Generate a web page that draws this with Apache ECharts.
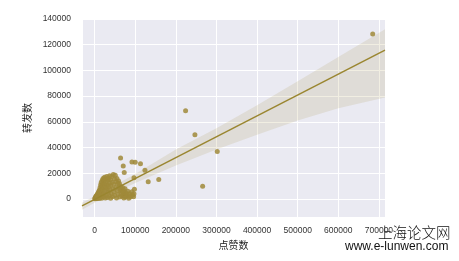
<!DOCTYPE html>
<html><head><meta charset="utf-8">
<script src="https://cdn.jsdelivr.net/npm/echarts@6/dist/echarts.min.js"></script>
<style>html,body{margin:0;padding:0;background:#fff}#c{width:459px;height:261px}</style>
</head><body><div id="c"></div>
<script>
const xName = '点赞数';
const yName = '转发数';
// scatter points [likes, reposts]
const clusterPoints = [
[500,200],[1200,800],[2000,300],[2500,1500],[3000,600],[3500,2200],[4000,1000],[4500,300],[5000,2800],[5500,1700],
[6000,500],[6500,3500],[7000,1200],[7500,2500],[8000,4200],[8500,800],[9000,3000],[9500,5000],[10000,1800],[10500,6000],
[11000,400],[11500,3800],[12000,7000],[12500,2200],[13000,5200],[13500,9000],[14000,1000],[14500,4500],[15000,11000],[15500,6800],
[16000,2800],[16500,13000],[17000,8200],[17500,600],[18000,10500],[18500,5000],[19000,14500],[19500,3200],[20000,12000],[20500,7500],
[21000,16000],[22000,1500],[22500,9500],[23000,14000],[24000,4200],[24500,17000],[25000,11500],[26000,6500],[26500,800],[27000,15500],
[28000,9000],[28500,13000],[29000,3000],[30000,17500],[31000,7500],[31500,11000],[32000,1200],[33000,14800],[34000,5500],[34500,16200],
[35000,9800],[36000,2500],[36500,12500],[37000,18000],[38000,7000],[39000,15000],[39500,500],[40000,10500],[41000,4000],[42000,17500],
[43000,13000],[44000,1800],[45000,8000],[46000,19000],[47000,11500],[48000,5500],[49000,15500],[50000,2800],[51000,18500],[52000,9000],
[53000,13500],[54000,700],[55000,16000],[56000,6500],[57000,12000],[58000,3500],[59000,14000],[60000,9500],[61000,12000],[62000,1500],
[63000,7000],[64000,10000],[65000,4000],[66000,8000],[67000,6000],[68000,2200],[69000,9000],[70000,5500],[71000,3000],[72000,800],
[73000,6500],[74000,3200],[75000,8000],[76000,1500],[77000,4500],[78000,2000],[80000,3800],[82000,6000],[84000,500],[86000,4000],
[88000,1500],[90000,2500],[92000,5600],[94000,3200],[96000,1800],[98000,7600],[97000,4000],[97000,16500]
];
const outlierPoints = [
[64000,31900],[70500,25700],[73000,20600],[92000,28800],[100000,28600],[113000,27500],[124000,22400],
[132000,13400],[158000,15200],[224000,68700],[247000,50000],[302000,37000],[266000,10000],[684700,128400]
];
// regression line endpoints
const fitLine = [[-31000,-5400],[715000,115800]];
// confidence band: x, lower, upper
const bandX     = [-31000, 0, 100000, 200000, 300000, 400000, 500000, 600000, 715000];
const bandLower = [-8400, -3000, 12500, 26000, 38500, 50000, 61000, 70500, 79000];
const bandUpper = [-2900, 2200, 19500, 38500, 55000, 73000, 91500, 110500, 132000];

const baseColor = '#a08a3a';
const chart = echarts.init(document.getElementById('c'), null, {renderer:'canvas'});
const bandData = bandX.map((x,i)=>[x,bandLower[i],bandUpper[i]]);
const labelFont = {fontFamily:'Liberation Sans, Arial, sans-serif', fontSize:8.5, color:'#333', formatter:function(v){return String(v);}};
chart.setOption({
  animation:false,
  backgroundColor:'#fff',
  grid:{left:82,right:74,top:19,bottom:44,show:true,backgroundColor:'#EAEAF2',borderWidth:0},
  xAxis:{type:'value',min:-31000,max:715000,minInterval:100000,maxInterval:100000,
    name:xName,nameLocation:'middle',nameGap:20,
    nameTextStyle:{fontFamily:'Noto Sans CJK SC',fontSize:10,color:'#222'},
    axisLine:{show:false},axisTick:{show:false},
    axisLabel:Object.assign({margin:9,showMinLabel:false,showMaxLabel:false},labelFont),
    splitLine:{show:true,lineStyle:{color:'#fff',width:1}}},
  yAxis:{type:'value',min:-14000,max:140000,minInterval:20000,maxInterval:20000,
    name:yName,nameLocation:'middle',nameGap:33,nameRotate:90,
    nameTextStyle:{fontFamily:'Noto Sans CJK SC',fontSize:10,color:'#222'},
    axisLine:{show:false},axisTick:{show:false},
    axisLabel:Object.assign({margin:11,showMinLabel:false},labelFont),
    splitLine:{show:true,lineStyle:{color:'#fff',width:1}}},
  series:[
    {type:'custom',data:bandData,clip:true,z:1,
      renderItem:function(params,api){
        if(params.dataIndex!==0) return;
        const up=[],lo=[];
        for(let i=0;i<bandData.length;i++){
          up.push(api.coord([bandData[i][0],bandData[i][2]]));
          lo.push(api.coord([bandData[i][0],bandData[i][1]]));
        }
        const pts=up.concat(lo.reverse());
        return {type:'polygon',shape:{points:pts},style:{fill:baseColor,opacity:0.15}};
      }},
    {type:'scatter',data:clusterPoints.concat(outlierPoints),symbolSize:5,z:3,
      itemStyle:{color:baseColor,opacity:0.85}},
    {type:'line',data:fitLine,showSymbol:false,symbol:'none',z:4,clip:true,
      lineStyle:{color:'#9a8630',width:1.5}}
  ],
  graphic:[
    {type:'text',left:378,top:225,style:{text:'上海论文网',font:'300 14.5px "Noto Sans CJK SC"',fill:'#111'}},
    {type:'text',left:345,top:241,style:{text:'www.e-lunwen.com',font:'12px "Liberation Sans", Arial',fill:'#111'}}
  ]
});
</script></body></html>
